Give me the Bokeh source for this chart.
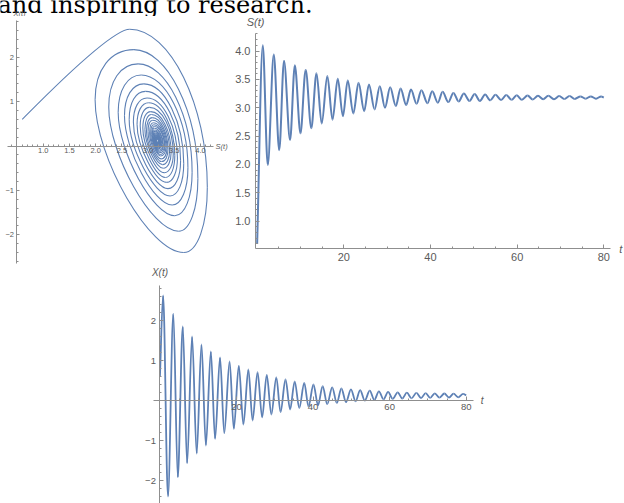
import numpy as np
from bokeh.plotting import figure
from bokeh.models import (ColumnDataSource, Range1d, LinearAxis, FixedTicker,
                          Label, Spacer, Grid)
from bokeh.layouts import row, column
from bokeh.core.properties import value
from bokeh.embed import file_html
from bokeh.resources import INLINE

# ---------------- data ----------------
top_text = "and inspiring to research."

# S(t): start, alternating peaks / troughs, end
s_t = [0, 1.3, 2.45, 3.84, 5.1, 6.2, 7.6, 8.7, 10.0, 11.2, 12.5, 13.7, 14.9, 16.2, 17.4,
       18.6, 19.8, 20.9, 22.2, 23.4, 24.7, 25.8, 27.1, 28.3, 29.5, 30.7, 32.0, 33.1, 34.4,
       35.5, 36.8, 37.9, 39.3, 40.4, 41.7, 42.8, 44.1, 45.3, 46.5, 47.7, 49.0, 50.2, 51.4,
       52.6, 53.8, 55.0, 56.3, 57.5, 58.7, 59.9, 61.1, 62.4, 63.6, 64.8, 66.0, 67.2, 68.5,
       69.7, 70.9, 72.1, 73.3, 74.6, 75.8, 77.0, 78.2, 79.4, 80.0]
s_v = [0.60, 4.10, 1.99, 3.94, 2.25, 3.83, 2.43, 3.75, 2.55, 3.67, 2.64, 3.61, 2.72, 3.56,
       2.79, 3.51, 2.85, 3.48, 2.90, 3.44, 2.94, 3.41, 2.97, 3.38, 3.00, 3.36, 3.03, 3.34,
       3.05, 3.32, 3.07, 3.31, 3.08, 3.29, 3.09, 3.28, 3.10, 3.26, 3.11, 3.25, 3.12, 3.24,
       3.12, 3.235, 3.13, 3.23, 3.135, 3.225, 3.14, 3.22, 3.14, 3.215, 3.145, 3.21, 3.15,
       3.21, 3.15, 3.205, 3.155, 3.205, 3.155, 3.20, 3.16, 3.20, 3.16, 3.20, 3.18]

# X(t): start, alternating peaks / troughs, end
x_t = [0, 0.83, 2.1, 3.5, 4.66, 5.97, 7.1, 8.4, 9.6, 10.85, 12.0, 13.3, 14.4, 15.7, 16.8,
       18.2, 19.3, 20.6, 21.8, 23.1, 24.2, 25.5, 26.7, 27.9, 29.1, 30.4, 31.5, 32.8, 34.0,
       35.2, 36.4, 37.7, 38.8, 40.1, 41.3, 42.5, 43.7, 45.0, 46.2, 47.4, 48.6, 49.9, 51.1,
       52.3, 53.5, 54.8, 56.0, 57.2, 58.4, 59.6, 60.8, 62.1, 63.3, 64.5, 65.7, 67.0, 68.2,
       69.4, 70.6, 71.8, 73.0, 74.3, 75.5, 76.7, 77.9, 79.2, 80.0]
x_v = [0.60, 2.63, -2.40, 2.17, -1.92, 1.85, -1.57, 1.60, -1.33, 1.40, -1.125, 1.23, -0.96,
       1.08, -0.82, 0.975, -0.71, 0.87, -0.60, 0.775, -0.50, 0.71, -0.42, 0.64, -0.35, 0.58,
       -0.29, 0.525, -0.225, 0.48, -0.19, 0.44, -0.15, 0.40, -0.12, 0.36, -0.09, 0.33, -0.06,
       0.30, -0.04, 0.28, -0.02, 0.26, 0.00, 0.245, 0.015, 0.23, 0.03, 0.215, 0.04, 0.205,
       0.05, 0.195, 0.055, 0.19, 0.06, 0.185, 0.065, 0.18, 0.07, 0.175, 0.075, 0.17, 0.08,
       0.165, 0.13]

# phase portrait (S, X): start, then per loop top, right, bottom, left
phase_s = [0.60,
           2.65, 4.13, 3.68, 1.99,
           2.73, 3.95, 3.58, 2.25,
           2.81, 3.84, 3.51, 2.43,
           2.87, 3.76, 3.46, 2.55,
           2.92, 3.68, 3.42, 2.64,
           2.95, 3.62, 3.38, 2.72,
           2.98, 3.56, 3.355, 2.79,
           3.01, 3.51, 3.33, 2.85,
           3.03, 3.48, 3.31, 2.90,
           3.05, 3.44, 3.29, 2.94,
           3.065, 3.41, 3.275, 2.97,
           3.08, 3.38, 3.26, 3.00,
           3.09, 3.36, 3.25, 3.03,
           3.10, 3.34, 3.24, 3.05,
           3.11, 3.32, 3.23, 3.07,
           3.12, 3.31, 3.225, 3.08,
           3.12, 3.29, 3.22, 3.09,
           3.13, 3.28, 3.21, 3.10,
           3.135, 3.26, 3.205, 3.11,
           3.14, 3.25, 3.20, 3.12,
           3.145, 3.24, 3.195, 3.12,
           3.145, 3.235, 3.195, 3.13,
           3.15, 3.23, 3.19, 3.135,
           3.15, 3.225, 3.19, 3.14,
           3.152, 3.22, 3.188, 3.14,
           3.153, 3.215, 3.187, 3.145,
           3.155, 3.21, 3.184, 3.15,
           3.157, 3.21, 3.184, 3.15,
           3.158, 3.205, 3.182, 3.155,
           3.159, 3.205, 3.182, 3.155,
           3.16, 3.20, 3.18, 3.16,
           3.161, 3.20, 3.18, 3.16,
           3.162, 3.20]
phase_x = [0.60,
           2.63, -0.93, -2.40, 1.04,
           2.17, -0.73, -1.92, 0.88,
           1.85, -0.59, -1.57, 0.76,
           1.60, -0.49, -1.33, 0.68,
           1.40, -0.40, -1.125, 0.60,
           1.23, -0.33, -0.96, 0.54,
           1.08, -0.27, -0.82, 0.49,
           0.975, -0.22, -0.71, 0.45,
           0.87, -0.18, -0.60, 0.405,
           0.775, -0.14, -0.50, 0.37,
           0.71, -0.11, -0.42, 0.34,
           0.64, -0.08, -0.35, 0.32,
           0.58, -0.05, -0.29, 0.29,
           0.525, -0.03, -0.225, 0.27,
           0.48, -0.01, -0.19, 0.26,
           0.44, 0.01, -0.15, 0.24,
           0.40, 0.02, -0.12, 0.23,
           0.36, 0.035, -0.09, 0.21,
           0.33, 0.05, -0.06, 0.20,
           0.30, 0.06, -0.04, 0.19,
           0.28, 0.07, -0.02, 0.185,
           0.26, 0.075, 0.00, 0.18,
           0.245, 0.08, 0.015, 0.175,
           0.23, 0.09, 0.03, 0.17,
           0.215, 0.095, 0.04, 0.163,
           0.205, 0.10, 0.05, 0.16,
           0.195, 0.10, 0.055, 0.157,
           0.19, 0.103, 0.06, 0.155,
           0.185, 0.105, 0.065, 0.153,
           0.18, 0.107, 0.07, 0.151,
           0.175, 0.109, 0.075, 0.149,
           0.17, 0.111, 0.08, 0.147,
           0.165, 0.112]

# tick values
phase_xticks = [1.0, 1.5, 2.0, 2.5, 3.0, 3.5, 4.0]
phase_yticks = [-2, -1, 1, 2]
s_yticks = [1.0, 1.5, 2.0, 2.5, 3.0, 3.5, 4.0]
t_ticks = [20, 40, 60, 80]
x_yticks = [-2, -1, 1, 2]

# ---------------- styling ----------------
BLUE = "#5E81B5"
AXIS = "#8f8f8f"
LAB = "#5a5a5a"
SANS = "Liberation Sans"


def lin(da, pa, db, pb, q):
    return da + (q - pa) * (db - da) / (pb - pa)


def ts_segments(t, v):
    t = np.asarray(t, float)
    v = np.asarray(v, float)
    t0, t1, v0, v1 = t[:-1], t[1:], v[:-1], v[1:]
    dt = t1 - t0
    cx0, cy0 = t0 + dt / 3.0, v0.copy()
    cx1, cy1 = t1 - dt / 3.0, v1.copy()
    cy0[0] = v0[0] + (v1[0] - v0[0]) / 3.0
    cy1[-1] = v1[-1] - (v1[-1] - v0[-1]) / 3.0
    return ColumnDataSource(dict(x0=t0, y0=v0, x1=t1, y1=v1, cx0=cx0, cy0=cy0, cx1=cx1, cy1=cy1))


def phase_segments(s, x, ks=(0.52, 0.58, 0.38, 0.6)):
    d = dict(x0=[], y0=[], x1=[], y1=[], cx0=[], cy0=[], cx1=[], cy1=[])
    for j in range(len(s) - 1):
        s0, x0, s1, x1 = s[j], x[j], s[j + 1], x[j + 1]
        if j == 0:
            c0 = (s0 + 0.15 * (s1 - s0), x0 + 0.18 * (x1 - x0))
            c1 = (s1 - 0.18 * (s1 - s0), x1)
        else:
            typ = (j - 1) % 4
            k = ks[typ]
            if typ in (0, 2):      # from an X extremum (horizontal tangent)
                c0 = (s0 + k * (s1 - s0), x0)
                c1 = (s1, x1 + k * (x0 - x1))
            else:                  # from an S extremum (vertical tangent)
                c0 = (s0, x0 + k * (x1 - x0))
                c1 = (s1 + k * (s0 - s1), x1)
        for key, val in zip(("x0", "y0", "x1", "y1", "cx0", "cy0", "cx1", "cy1"),
                            (s0, x0, s1, x1, c0[0], c0[1], c1[0], c1[1])):
            d[key].append(val)
    return ColumnDataSource(d)


def base_fig(box, xa, ya):
    """box = (left, top, right, bottom) page pixels; xa/ya = two (value, pixel) anchors."""
    L, T, R, B = box
    xr = (lin(xa[0][0], xa[0][1], xa[1][0], xa[1][1], L),
          lin(xa[0][0], xa[0][1], xa[1][0], xa[1][1], R))
    yr = (lin(ya[0][0], ya[0][1], ya[1][0], ya[1][1], B),
          lin(ya[0][0], ya[0][1], ya[1][0], ya[1][1], T))
    p = figure(width=R - L, height=B - T, x_range=Range1d(*xr), y_range=Range1d(*yr),
               toolbar_location=None, output_backend="svg", title=None,
               x_axis_location=None, y_axis_location=None,
               min_border_left=0, min_border_right=0, min_border_top=0, min_border_bottom=0)
    p.outline_line_color = None
    p.background_fill_color = "white"
    p.border_fill_color = "white"
    for g in list(p.center):
        if isinstance(g, Grid):
            g.visible = False
    return p


def add_axis(p, side, loc, bounds, ticks, minor, labels, fsize, standoff, tin=4, mtin=2):
    ax = LinearAxis(fixed_location=loc, bounds=bounds,
                    ticker=FixedTicker(ticks=ticks, minor_ticks=minor),
                    major_label_overrides=labels,
                    axis_line_color=AXIS, major_tick_line_color=AXIS,
                    minor_tick_line_color=AXIS,
                    major_tick_in=tin, major_tick_out=0,
                    minor_tick_in=mtin, minor_tick_out=0,
                    major_label_text_font=SANS, major_label_text_font_size=fsize,
                    major_label_text_color=LAB, major_label_standoff=standoff)
    p.add_layout(ax, side)
    return ax


def lbl(v):
    return ("\u2212" + str(abs(v))) if v < 0 else str(v)


def axis_label(p, x, y, text, fsize, align, baseline, xo=0, yo=0):
    p.add_layout(Label(x=x, y=y, text=text, x_offset=xo, y_offset=yo,
                       text_align=align, text_baseline=baseline,
                       text_font=SANS, text_font_style="italic",
                       text_font_size=fsize, text_color=LAB))


# ---------------- top strip: page text + phase axis label ----------------
tf = base_fig((0, 0, 624, 16), ((0, 0), (624, 624)), ((0, 16), (16, 0)))
tf.text(x=[-3], y=[16 - 4.5], text=[top_text], text_font=value("DejaVu Serif"),
        text_font_size="24px", text_baseline="alphabetic", text_align="left",
        text_color="black")
axis_label(tf, 19, 16 - 12.5, "X(t)", "7.5px", "center", "middle")

# ---------------- phase portrait ----------------
pp = base_fig((0, 16, 233, 265), ((1.0, 42.7), (4.0, 200.0)), ((2, 56.7), (-2, 234.3)))
pp.bezier(x0="x0", y0="y0", x1="x1", y1="y1", cx0="cx0", cy0="cy0", cx1="cx1", cy1="cy1",
          source=phase_segments(phase_s, phase_x), line_color=BLUE, line_width=1.1)
add_axis(pp, "below", 0, (0.31, 4.25), phase_xticks,
         [round(v, 2) for v in np.arange(0.4, 4.25, 0.1)],
         {v: f"{v:.1f}" for v in phase_xticks}, "7.5px", 2, 3, 2)
add_axis(pp, "left", 0.5, (-2.65, 2.83), phase_yticks,
         [round(v, 2) for v in np.arange(-2.6, 2.81, 0.2)],
         {v: lbl(v) for v in phase_yticks}, "7.5px", 3, 3, 2)
axis_label(pp, 4.25, 0, "S(t)", "7.5px", "left", "middle", xo=2)

# ---------------- S(t) ----------------
sp = base_fig((233, 16, 624, 265), ((20, 343.3), (80, 603.3)), ((4.0, 50.5), (1.0, 220.7)))
sp.bezier(x0="x0", y0="y0", x1="x1", y1="y1", cx0="cx0", cy0="cy0", cx1="cx1", cy1="cy1",
          source=ts_segments(s_t, s_v), line_color=BLUE, line_width=2.0)
add_axis(sp, "below", 0.51, (-0.38, 81.5), t_ticks, list(range(5, 81, 5)),
         {v: str(v) for v in t_ticks}, "11px", 4)
add_axis(sp, "left", -0.38, (0.51, 4.31), s_yticks,
         [round(v, 2) for v in np.arange(0.6, 4.31, 0.1)],
         {v: f"{v:.1f}" for v in s_yticks}, "11px", 5)
axis_label(sp, -0.38, 4.31, "S(t)", "11px", "center", "middle", yo=11)
axis_label(sp, 81.5, 0.51, "t", "11px", "left", "middle", xo=9)

# ---------------- X(t) ----------------
xp = base_fig((136, 265, 496, 503), ((20, 236.0), (80, 465.7)), ((2, 320.0), (-2, 480.0)))
xp.bezier(x0="x0", y0="y0", x1="x1", y1="y1", cx0="cx0", cy0="cy0", cx1="cx1", cy1="cy1",
          source=ts_segments(x_t, x_v), line_color=BLUE, line_width=1.8)
add_axis(xp, "below", 0, (-1.6, 82), t_ticks, list(range(5, 81, 5)),
         {v: str(v) for v in t_ticks}, "9.5px", 3)
add_axis(xp, "left", 0, (-2.7, 2.875), x_yticks,
         [round(v, 2) for v in np.arange(-2.6, 2.81, 0.2)],
         {v: lbl(v) for v in x_yticks}, "9.5px", 4)
axis_label(xp, 0, 2.875, "X(t)", "10px", "center", "middle", yo=13)
axis_label(xp, 82, 0, "t", "10px", "left", "middle", xo=7)

layout = column(tf, row(pp, sp), row(Spacer(width=136, height=238), xp))
open("out.html", "w").write(file_html(layout, INLINE, "plot"))
